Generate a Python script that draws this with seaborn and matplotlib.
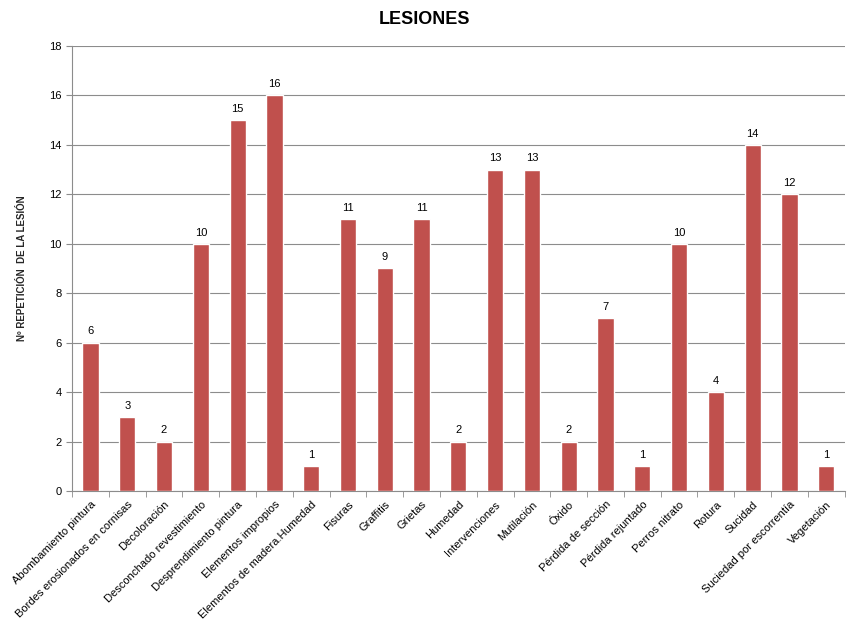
import numpy as np
import pandas as pd
import matplotlib
matplotlib.use("Agg")
import matplotlib.pyplot as plt
import seaborn as sns
from matplotlib.ticker import FixedLocator

# Data
categories = ["Abombamiento pintura", "Bordes erosionados en cornisas", "Decoloración",
              "Desconchado revestimiento", "Desprendimiento pintura", "Elementos impropios",
              "Elementos de madera.Humedad", "Fisuras", "Graffitis", "Grietas", "Humedad",
              "Intervenciones", "Mutilación", "Óxido", "Pérdida de sección",
              "Pérdida rejuntado", "Perros nitrato", "Rotura", "Sucidad",
              "Suciedad por escorrentía", "Vegetación"]
values = [6, 3, 2, 10, 15, 16, 1, 11, 9, 11, 2, 13, 13, 2, 7, 1, 10, 4, 14, 12, 1]
y_ticks = [0, 2, 4, 6, 8, 10, 12, 14, 16, 18]

BAR_COLOR = "#C0504D"

sns.set_style("white")
plt.rcParams['font.family'] = ['Liberation Sans', 'DejaVu Sans']
plt.rcParams['text.color'] = "black"
plt.rcParams['xtick.color'] = "black"
plt.rcParams['ytick.color'] = "black"

df = pd.DataFrame({"lesion": categories, "n": values})

fig = plt.figure(figsize=(8.48, 6.2), dpi=100)
ax = fig.add_axes([0.085, 0.208, 0.911, 0.718])

sns.barplot(data=df, x="lesion", y="n", color=BAR_COLOR, width=0.44,
            saturation=1, ax=ax, zorder=3)

ax.set_ylim(0, 18)
ax.set_xlim(-0.5, len(categories) - 0.5)
ax.set_yticks(y_ticks)
ax.yaxis.grid(True, color="#8c8c8c", linewidth=0.8, zorder=0)
ax.tick_params(axis="y", labelsize=8, length=4, color="#8c8c8c", direction="out", left=True)

# labels on bars
for i, v in enumerate(values):
    ax.text(i, v + 0.25, str(v), ha="center", va="bottom", fontsize=8)

# x tick labels rotated, ticks between categories (Excel style)
ax.set_xticks(range(len(categories)))
ax.set_xticklabels(categories, rotation=45, ha="right", rotation_mode="anchor", fontsize=8)
ax.tick_params(axis="x", which="major", length=0, pad=6)
ax.xaxis.set_minor_locator(FixedLocator(np.arange(-0.5, len(categories), 1)))
ax.tick_params(axis="x", which="minor", length=4, color="#8c8c8c", direction="out", bottom=True)

for side in ["top", "right"]:
    ax.spines[side].set_visible(False)
for side in ["left", "bottom"]:
    ax.spines[side].set_color("#8c8c8c")

ax.set_xlabel("")
ax.set_ylabel("Nº REPETICIÓN  DE LA LESIÓN", fontsize=7, fontweight="bold", labelpad=16)
fig.text(0.5, 0.968, "LESIONES", ha="center", va="center", fontsize=13, fontweight="bold")

fig.savefig("out.png", dpi=100)
